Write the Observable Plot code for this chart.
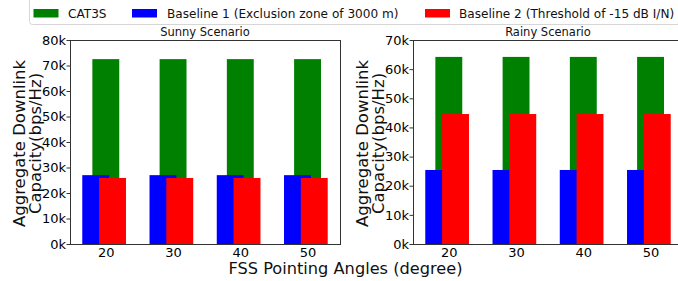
<!DOCTYPE html>
<html>
<head>
<meta charset="utf-8">
<script src="https://cdn.jsdelivr.net/npm/d3@7"></script>
<script src="https://cdn.jsdelivr.net/npm/@observablehq/plot@0.6"></script>
<style>
  html, body { margin: 0; padding: 0; background: #fff; overflow: hidden; }
  #root { position: relative; width: 678px; height: 281px; overflow: hidden; background: #fff; font-family: "DejaVu Sans", sans-serif; }
  .panel { position: absolute; top: 0; width: 341px; height: 281px; }
  .panel svg { max-width: none !important; }
  #overlay { position: absolute; left: 0; top: 0; pointer-events: none; }
</style>
</head>
<body>
<div id="root">
  <div id="left" class="panel" style="left:0px"></div>
  <div id="right" class="panel" style="left:343px"></div>
  <svg id="overlay" width="678" height="281"></svg>
</div>
<script>
// ---- data ----
const angles = [20, 30, 40, 50];
const seriesNames = ["CAT3S", "Baseline 1 (Exclusion zone of 3000 m)", "Baseline 2 (Threshold of -15 dB I/N)"];
const seriesColors = ["#008000", "#0000ff", "#ff0000"];
const sunnyCAT3S = [72500, 72500, 72500, 72500];
const sunnyBaseline1 = [27000, 27000, 27000, 27000];
const sunnyBaseline2 = [25900, 25900, 25900, 25900];
const rainyCAT3S = [64200, 64200, 64200, 64200];
const rainyBaseline1 = [25400, 25400, 25400, 25400];
const rainyBaseline2 = [44600, 44600, 44600, 44600];
const sunnyTicks = [0, 10000, 20000, 30000, 40000, 50000, 60000, 70000, 80000];
const rainyTicks = [0, 10000, 20000, 30000, 40000, 50000, 60000, 70000];
const panelTitles = ["Sunny Scenario", "Rainy Scenario"];
const xLabel = "FSS Pointing Angles (degree)";
const yLabelLines = ["Aggregate Downlink", "Capacity(bps/Hz)"];

// bar layout (in x units)
const barWidth = 4;
const offsets = [0, -1.5, 1];

function rows(values, offset) {
  return angles.map((a, i) => ({x1: a + offset - barWidth / 2, x2: a + offset + barWidth / 2, y: values[i]}));
}

function panel(series, yMax, ticks) {
  return Plot.plot({
    width: 341,
    height: 281,
    marginLeft: 70,
    marginRight: 1,
    marginTop: 40,
    marginBottom: 37,
    style: {fontFamily: "DejaVu Sans", fontSize: "13px", background: "transparent", overflow: "visible", maxWidth: "none"},
    x: {domain: [14.675, 54.825]},
    y: {domain: [0, yMax]},
    marks: [
      ...series.map((vals, k) => Plot.rectY(rows(vals, offsets[k]), {x1: "x1", x2: "x2", y: "y", fill: seriesColors[k]})),
      Plot.axisY({ticks, tickFormat: d => d / 1000 + "k", tickSize: 3.5, tickPadding: 1, fontSize: 13, label: null, stroke: "#333"}),
      Plot.axisX({ticks: angles, tickFormat: d => String(d), tickSize: 0, tickPadding: 3, fontSize: 13, label: null}),
      Plot.frame({stroke: "#333", strokeWidth: 1})
    ]
  });
}

document.getElementById("left").appendChild(panel([sunnyCAT3S, sunnyBaseline1, sunnyBaseline2], 80000, sunnyTicks));
document.getElementById("right").appendChild(panel([rainyCAT3S, rainyBaseline1, rainyBaseline2], 70000, rainyTicks));

// ---- overlay: legend, titles, axis labels ----
const ov = d3.select("#overlay").style("font-family", "DejaVu Sans");
// legend
ov.append("rect").attr("x", 29.5).attr("y", -6).attr("width", 700).attr("height", 30.5)
  .attr("rx", 3).attr("fill", "#fff").attr("stroke", "#d6d6d6");
const swatchX = [33.5, 132, 425];
const textX = [68, 167, 459];
seriesNames.forEach((name, i) => {
  ov.append("rect").attr("x", swatchX[i]).attr("y", 9).attr("width", 25).attr("height", 8.5).attr("fill", seriesColors[i]);
  ov.append("text").attr("x", textX[i]).attr("y", 17.5).attr("font-size", 12.1).attr("fill", "#111").text(name);
});
// panel titles
const panelCenters = [205, 548];
panelTitles.forEach((t, i) => {
  ov.append("text").attr("x", panelCenters[i]).attr("y", 36).attr("text-anchor", "middle")
    .attr("font-size", 11.5).attr("fill", "#111").text(t);
});
// y labels
const yLabelBase = [0, 343];
yLabelBase.forEach(b => {
  [25, 40.5].forEach((x, j) => {
    ov.append("text").attr("transform", `translate(${b + x},143.5) rotate(-90)`)
      .attr("text-anchor", "middle").attr("font-size", 16.5).attr("fill", "#111").text(yLabelLines[j]);
  });
});
// x label
ov.append("text").attr("x", 345.5).attr("y", 273.5).attr("text-anchor", "middle")
  .attr("font-size", 16.2).attr("fill", "#111").text(xLabel);
</script>
</body>
</html>
